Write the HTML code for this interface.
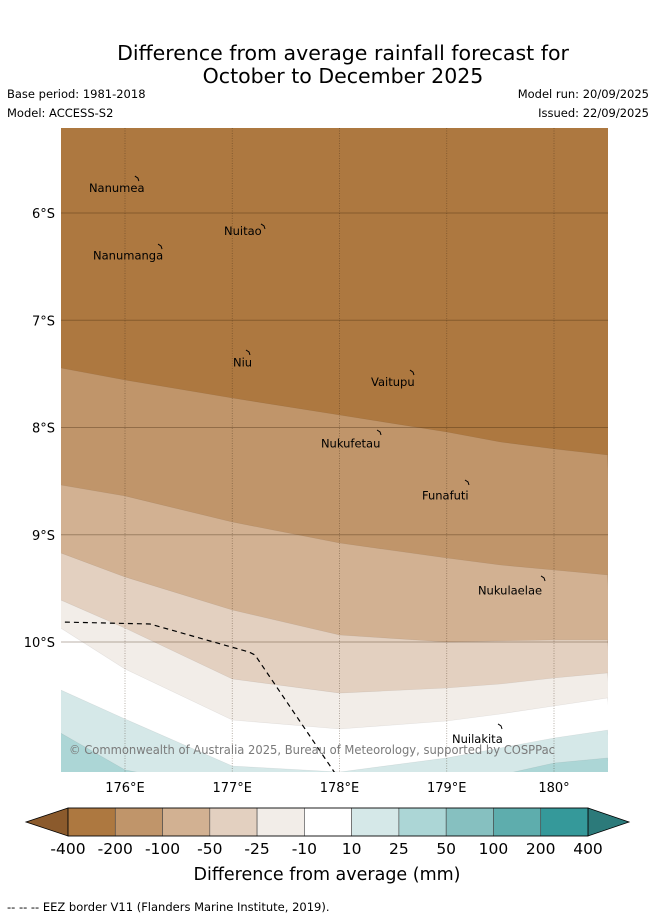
<!DOCTYPE html>
<html><head><meta charset="utf-8">
<style>
body{margin:0;background:#fff;width:655px;height:919px;overflow:hidden;font-family:"DejaVu Sans","Liberation Sans",sans-serif;}
</style></head>
<body>
<svg id="s" width="655" height="919" xmlns="http://www.w3.org/2000/svg" font-family="DejaVu Sans, Liberation Sans, sans-serif">
<text x="343" y="60" font-size="20.5" text-anchor="middle">Difference from average rainfall forecast for</text>
<text x="343" y="83" font-size="20.5" text-anchor="middle">October to December 2025</text>
<text x="7" y="98" font-size="11.5">Base period: 1981-2018</text>
<text x="7" y="117" font-size="11.5">Model: ACCESS-S2</text>
<text x="649" y="98" font-size="11.5" text-anchor="end">Model run: 20/09/2025</text>
<text x="649" y="117" font-size="11.5" text-anchor="end">Issued: 22/09/2025</text>
<g id="map"></g>
<g id="cbar"></g>
<text x="327" y="880" font-size="17.5" text-anchor="middle">Difference from average (mm)</text>
<text x="7" y="911" font-size="11.5">-- -- -- EEZ border V11 (Flanders Marine Institute, 2019).</text>
</svg>
<script>
// Data
const lonTicks=[176,177,178,179,180];
const latTicks=[6,7,8,9,10];
const levels=["-400","-200","-100","-50","-25","-10","10","25","50","100","200","400"];
const bandColors=["#ad7840","#c0956a","#d2b192","#e3d0c0","#f2ede8","#ffffff","#d5e8e8","#acd6d6","#86c0c0","#5eadad","#35999a"];
// Boundary longitudes and latitudes (°S) between successive bands
const bLon=[175.4,176.0,177.0,178.0,179.0,179.5,180.0,180.5];
const boundaries=[
 [7.445,7.557,7.725,7.883,8.042,8.135,8.200,8.256],
 [8.536,8.639,8.881,9.077,9.217,9.282,9.329,9.375],
 [9.170,9.394,9.702,9.935,10.0,9.99,9.98,9.98],
 [9.608,9.870,10.345,10.476,10.429,10.392,10.336,10.289],
 [9.870,10.252,10.727,10.811,10.737,10.671,10.597,10.522],
 [10.448,10.718,11.156,11.212,11.081,10.988,10.895,10.821],
 [10.849,11.193,11.38,11.38,11.38,11.24,11.128,11.082]
];
const eezLon=[175.44,176.233,177.156,177.212,177.977];
const eezLat=[9.814,9.832,10.093,10.121,11.25];
const places=["Nanumea","Nuitao","Nanumanga","Niu","Vaitupu","Nukufetau","Funafuti","Nukulaelae","Nuilakita"];
const placeLon=[176.12,177.296,176.336,177.156,178.685,178.378,179.198,179.907,179.506];
const placeLat=[5.674,6.121,6.308,7.296,7.483,8.042,8.508,9.403,10.783];
const labelLon=[175.664,176.923,175.702,177.007,178.294,177.827,178.769,179.291,179.049];
const labelLat=[5.767,6.168,6.394,7.392,7.578,8.147,8.632,9.518,10.904];

const X0=61,X1=608,Y0=128,Y1=772;
const xs=lon=>125+(lon-176)*107.25;
const ys=lat=>213+(lat-6)*107.25;
const NS="http://www.w3.org/2000/svg";
function mk(tag,attrs,parent){const e=document.createElementNS(NS,tag);for(const k in attrs)e.setAttribute(k,attrs[k]);parent.appendChild(e);return e;}
const svg=document.getElementById('s');
const map=document.getElementById('map');
const defs=mk('defs',{},svg);
const cp=mk('clipPath',{id:'clip'},defs);
mk('rect',{x:X0,y:Y0,width:X1-X0,height:Y1-Y0},cp);
const g=mk('g',{'clip-path':'url(#clip)'},map);
const bg=mk('rect',{x:X0,y:Y0,width:X1-X0,height:Y1-Y0,fill:bandColors[0]},g);


const lastBand=[bandColors[1],bandColors[2],bandColors[3],bandColors[4],bandColors[5],bandColors[6],bandColors[7]];
boundaries.forEach((b,i)=>{
  let d='M'+b.map((lat,j)=>xs(bLon[j]).toFixed(1)+','+ys(lat).toFixed(1)).join('L');
  d+='L'+(X1+10)+','+(Y1+40)+'L'+(X0-10)+','+(Y1+40)+'Z';
  const p=mk('path',{d:d,fill:lastBand[i],stroke:'rgba(0,0,0,0.08)','stroke-width':0.6},g);
  
  
});
latTicks.forEach(l=>{
  const y=ys(l);
  const ln=mk('line',{x1:X0,x2:X1,y1:y,y2:y,stroke:'rgba(60,35,10,0.35)','stroke-width':1},g);
  
  
  const t=mk('text',{x:55,y:y+5,'font-size':13,'text-anchor':'end'},map);
  t.textContent=l+'°S';
  
  
});
lonTicks.forEach(l=>{
  const x=xs(l);
  const ln=mk('line',{x1:x,x2:x,y1:Y0,y2:Y1,stroke:'rgba(60,40,20,0.45)','stroke-width':0.8,'stroke-dasharray':'1,1.5'},g);
  
  
  const t=mk('text',{x:x,y:792,'font-size':13,'text-anchor':'middle'},map);
  t.textContent=(l===180?'180°':l+'°E');
  
  
});
const eez=mk('path',{d:'M'+eezLon.map((lo,i)=>xs(lo).toFixed(1)+','+ys(eezLat[i]).toFixed(1)).join('L'),fill:'none',stroke:'#000','stroke-width':1.2,'stroke-dasharray':'5,4'},g);


places.forEach((n,i)=>{
  const mx=xs(placeLon[i]),my=ys(placeLat[i]);
  const m=mk('path',{d:`M${mx-3},${my-2}L${mx},${my}L${mx+1},${my+3}`,fill:'none',stroke:'#000','stroke-width':1},g);
  
  
  const t=mk('text',{x:xs(labelLon[i]),y:ys(labelLat[i])+4,'font-size':11.5},g);
  t.textContent=n;
  
  
});
const cr=mk('text',{x:69,y:754,'font-size':12,fill:'#7a7a7a',textLength:486,lengthAdjust:'spacingAndGlyphs'},g);
cr.textContent='© Commonwealth of Australia 2025, Bureau of Meteorology, supported by COSPPac';



// colorbar
const cb=document.getElementById('cbar');
const cx0=68,cx1=588,cy0=808,cy1=836,cw=(cx1-cx0)/bandColors.length;
const lt=mk('path',{d:`M${cx0},${cy0}L26,822L${cx0},${cy1}Z`,fill:'#8b5a2c',stroke:'#000','stroke-width':0.8},cb);


const rt=mk('path',{d:`M${cx1},${cy0}L629,822L${cx1},${cy1}Z`,fill:'#2c7a7a',stroke:'#000','stroke-width':0.8},cb);


bandColors.forEach((c,i)=>{
  const r=mk('rect',{x:cx0+i*cw,y:cy0,width:cw,height:cy1-cy0,fill:c,stroke:'#444','stroke-width':0.6},cb);
  
  
});
mk('rect',{x:cx0,y:cy0,width:cx1-cx0,height:cy1-cy0,fill:'none',stroke:'#000','stroke-width':0.8},cb);
levels.forEach((l,i)=>{
  const t=mk('text',{x:cx0+i*cw,y:854,'font-size':15.5,'text-anchor':'middle'},cb);
  t.textContent=l;
  
  
});
</script>
</body></html>
